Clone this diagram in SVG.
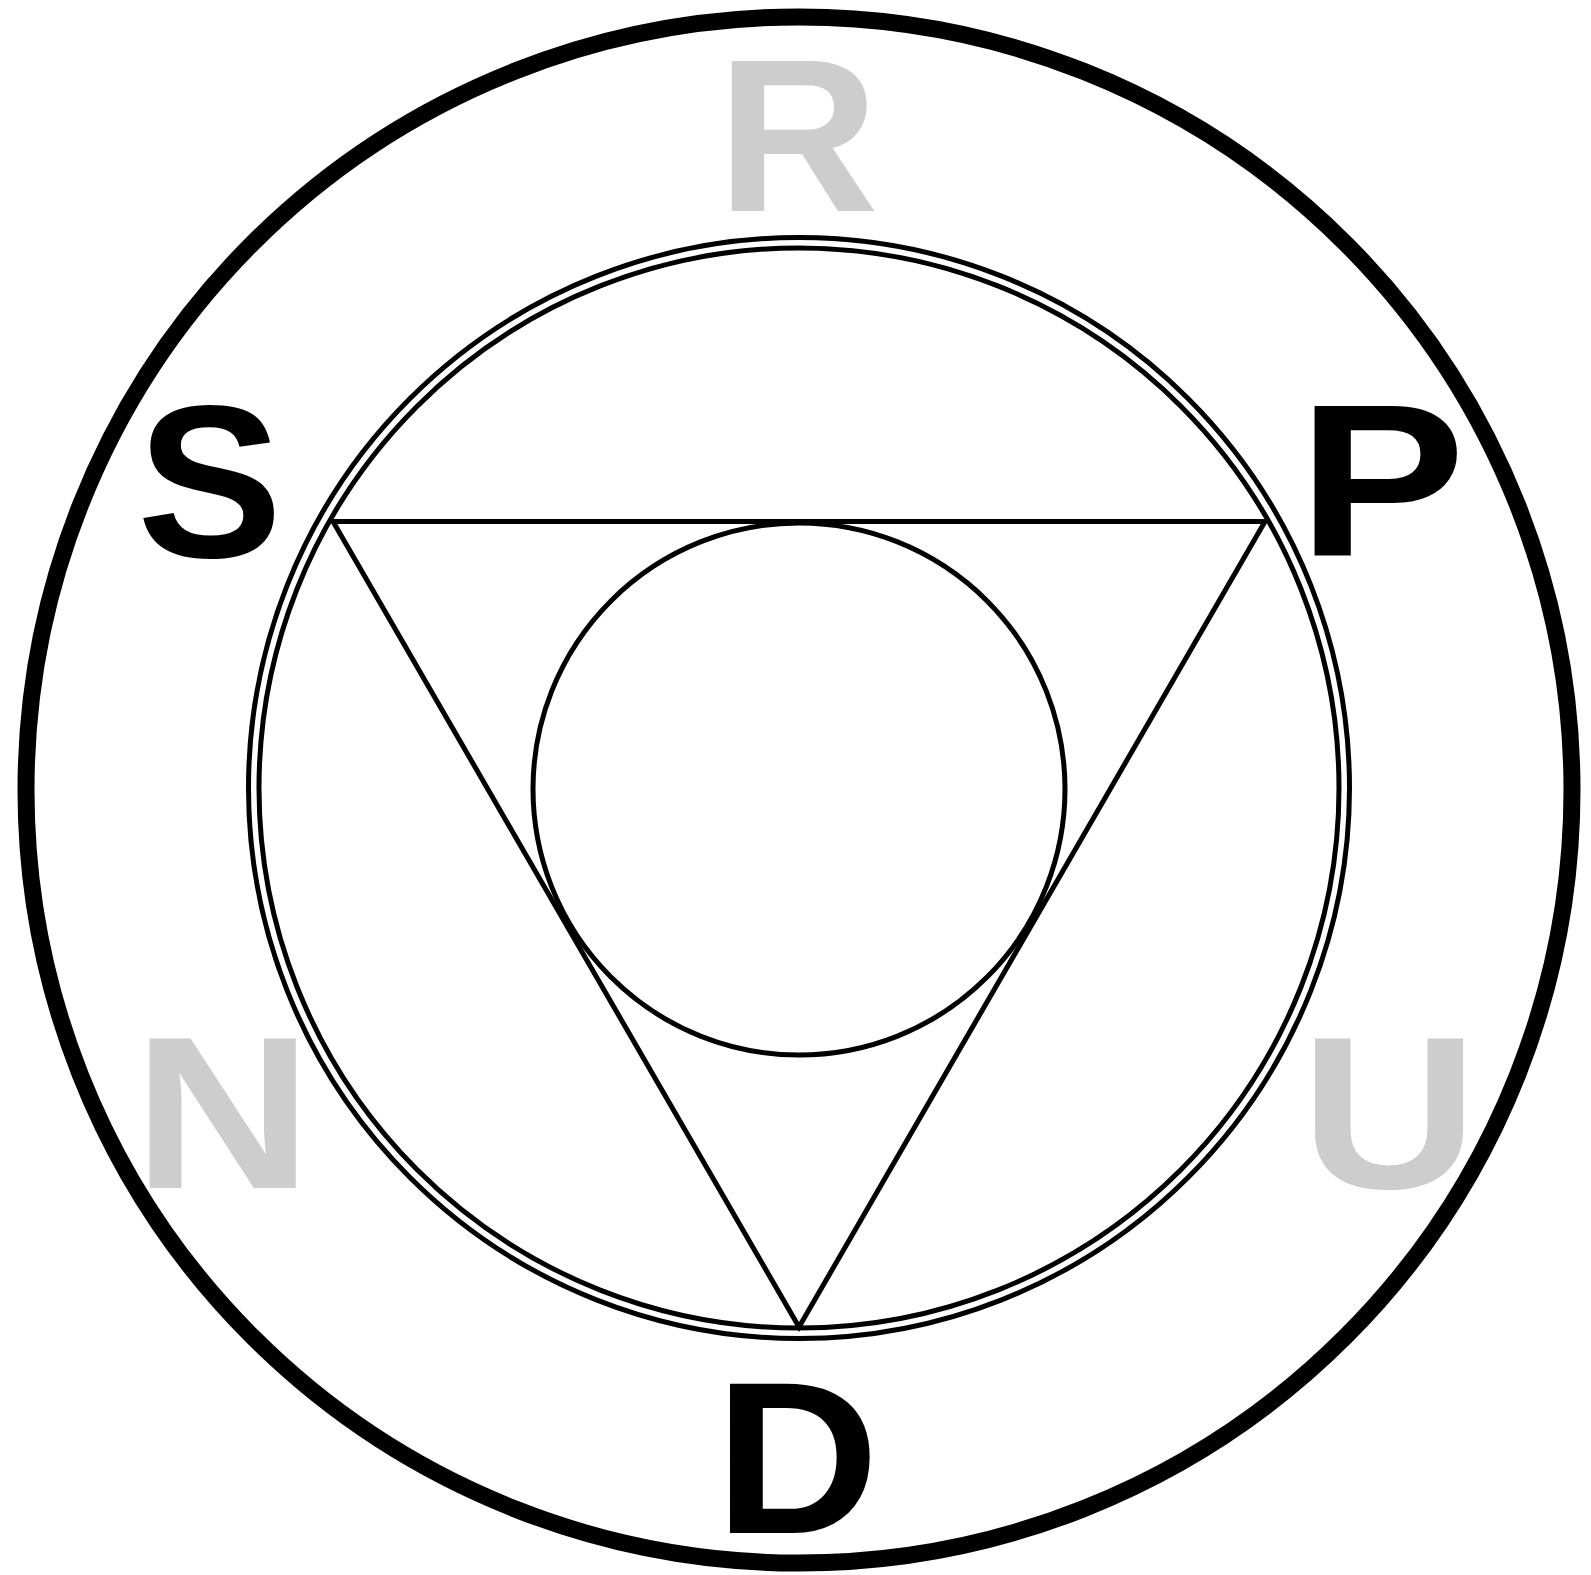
<svg xmlns="http://www.w3.org/2000/svg" width="1591" height="1575" viewBox="0 0 1591 1575">
<style>
.ln{fill:none;stroke:#000;stroke-width:5}
.big{font-family:"Liberation Sans",Arial,sans-serif;font-weight:bold;font-size:218px}
.blk{fill:#000}
.gry{fill:#cdcdcd}
</style>
<rect width="1591" height="1575" fill="#fff"/>
<g id="outer-ring"><circle cx="799" cy="790" r="773" fill="none" stroke="#000" stroke-width="17"/></g>
<g id="double-ring">
<circle class="ln" cx="799" cy="788" r="550.5"/>
<circle class="ln" cx="799" cy="788" r="540"/>
</g>
<g id="triangle"><polygon class="ln" points="333,521.5 1265,521.5 799,1327" stroke-linejoin="miter"/></g>
<g id="inner-circle"><circle class="ln" cx="799" cy="789" r="266"/></g>
<g id="label-R"><text class="big gry" transform="translate(716.8,211) scale(1.03,1)">R</text></g>
<g id="label-S"><text class="big blk" transform="translate(137,557)">S</text></g>
<g id="label-P"><text class="big blk" transform="translate(1297.7,556) scale(1.154,1)">P</text></g>
<g id="label-N"><text class="big gry" transform="translate(132.9,1188) scale(1.14,1)">N</text></g>
<g id="label-U"><text class="big gry" transform="translate(1300.2,1188) scale(1.13,1)">U</text></g>
<g id="label-D"><text class="big blk" transform="translate(714.8,1533) scale(1.045,1)">D</text></g>
</svg>
